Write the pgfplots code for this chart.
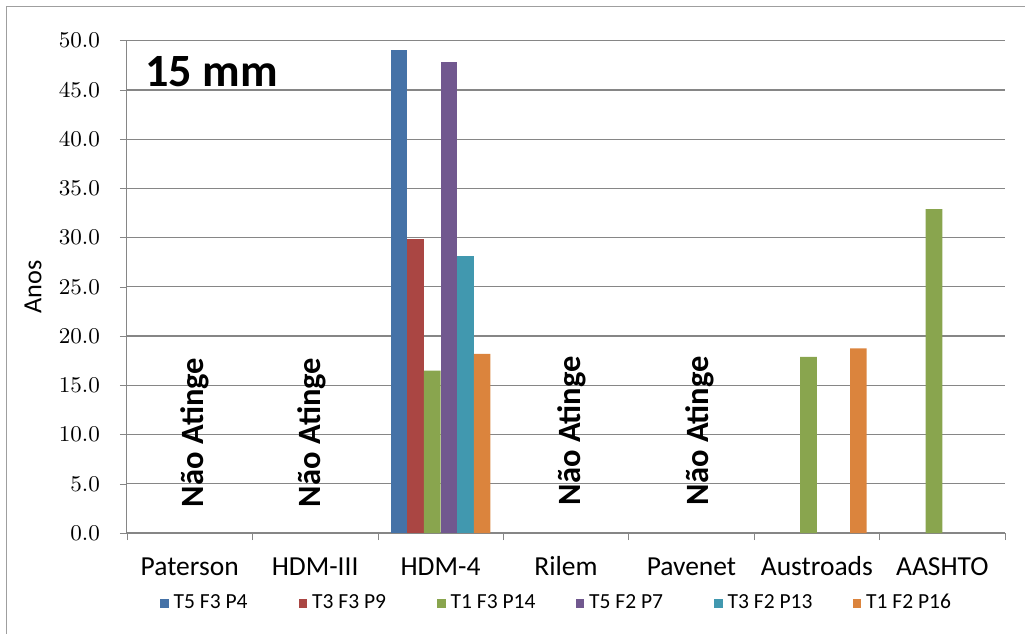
\documentclass[border=0pt]{standalone}
\usepackage{fontspec}
\setmainfont{Carlito}
\usepackage{pgfplots}
\pgfplotsset{compat=1.18}
\definecolor{sA}{RGB}{69,114,167}
\definecolor{sB}{RGB}{170,70,67}
\definecolor{sC}{RGB}{137,165,78}
\definecolor{sD}{RGB}{113,88,143}
\definecolor{sE}{RGB}{65,152,175}
\definecolor{sF}{RGB}{219,132,61}
\definecolor{axgray}{RGB}{134,134,134}
\begin{document}
\begin{tikzpicture}
\path[use as bounding box] (-127*0.4pt,-100*0.4pt) rectangle (898*0.4pt,533*0.4pt);
\begin{axis}[
  scale only axis, width=351.2pt, height=196.9pt,
  at={(0,0)}, anchor=south west,
  xmin=-0.5, xmax=6.5, ymin=0, ymax=50,
  ybar=0pt, bar width=6.65pt,
  axis x line*=bottom, axis y line*=left,
  axis line style={axgray},
  tick align=outside,
  xtick={0,...,6},
  xticklabels={Paterson,HDM-III,HDM-4,Rilem,Pavenet,Austroads,AASHTO},
  major x tick style={draw=none},
  minor xtick={-0.5,0.5,...,6.5},
  minor tick length=2.8pt,
  minor x tick style={axgray},
  major tick length=2.8pt,
  y tick style={axgray},
  ytick={0,5,...,50},
  yticklabel={\pgfmathprintnumber[fixed,fixed zerofill,precision=1]{\tick}},
  yticklabel style={font=\fontsize{9.4}{10}\selectfont, xshift=-4.5pt},
  xticklabel style={font=\fontsize{11}{12}\selectfont, yshift=-3pt, text height=1.6ex, text depth=0.3ex},
  ymajorgrids, grid style={axgray, line width=0.5pt},
  ylabel={Anos}, ylabel style={font=\fontsize{10.5}{12}\selectfont, at={(axis description cs:-0.107,0.5)}, anchor=center},
  legend columns=6,
  legend style={at={(0.494,-0.143)}, anchor=center, draw=none, fill=none,
    font=\fontsize{8.6}{10}\selectfont, column sep=0pt,
    /tikz/every even column/.append style={column sep=0pt}},
  legend image code/.code={\fill[#1] (0pt,-1.8pt) rectangle (3.4pt,1.8pt);},
  clip=false,
]
\addplot[fill=sA, draw=none] coordinates {(2,49.1)};
\addplot[fill=sB, draw=none] coordinates {(2,29.9)};
\addplot[fill=sC, draw=none] coordinates {(2,16.5) (5,17.9) (6,32.9)};
\addplot[fill=sD, draw=none] coordinates {(2,47.8)};
\addplot[fill=sE, draw=none] coordinates {(2,28.1)};
\addplot[fill=sF, draw=none] coordinates {(2,18.2) (5,18.75)};
\addlegendentry{\makebox[48pt][l]{T5 F3 P4}}
\addlegendentry{\makebox[48pt][l]{T3 F3 P9}}
\addlegendentry{\makebox[48pt][l]{T1 F3 P14}}
\addlegendentry{\makebox[48pt][l]{T5 F2 P7}}
\addlegendentry{\makebox[48pt][l]{T3 F2 P13}}
\addlegendentry{\makebox[36pt][l]{T1 F2 P16}}
\node[anchor=west, font=\bfseries\fontsize{18.5}{20}\selectfont] at (axis cs:-0.425,46.9) {15 mm};
\node[rotate=90, font=\bfseries\fontsize{13}{14}\selectfont] at (axis cs:0.04,10.2) {Não Atinge};
\node[rotate=90, font=\bfseries\fontsize{13}{14}\selectfont] at (axis cs:0.97,10.2) {Não Atinge};
\node[rotate=90, font=\bfseries\fontsize{13}{14}\selectfont] at (axis cs:3.05,10.4) {Não Atinge};
\node[rotate=90, font=\bfseries\fontsize{13}{14}\selectfont] at (axis cs:4.07,10.4) {Não Atinge};
\end{axis}
\draw[gray!75] (-120*0.4pt,-110*0.4pt) -- (-120*0.4pt,526*0.4pt) -- (910*0.4pt,526*0.4pt);
\end{tikzpicture}
\end{document}
